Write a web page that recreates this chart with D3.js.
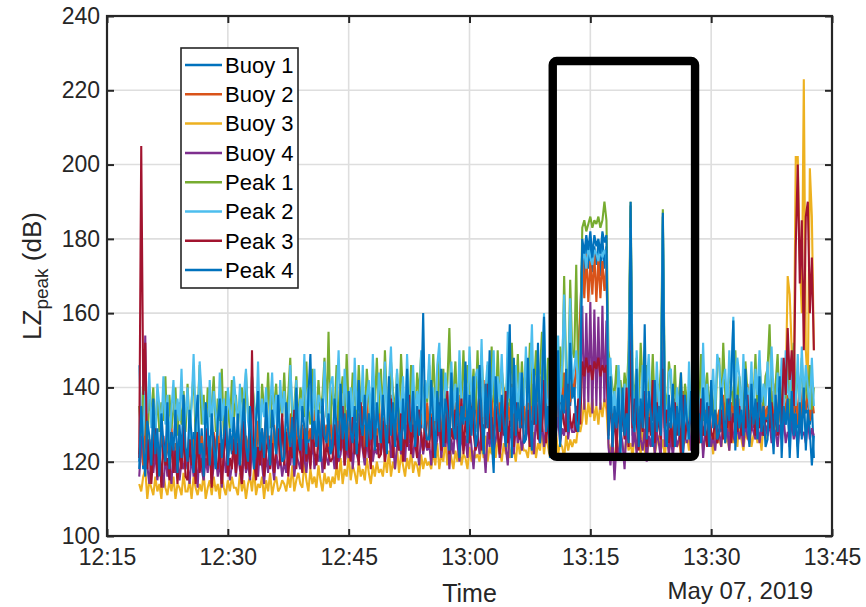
<!DOCTYPE html>
<html><head><meta charset="utf-8">
<script src="https://cdn.jsdelivr.net/npm/d3@7"></script>
<style>body{margin:0;background:#fff}svg{display:block}</style>
</head><body><svg id="c" width="866" height="607"></svg>
<script>
// ---------- DATA ----------
const seriesNames = ["Buoy 1","Buoy 2","Buoy 3","Buoy 4","Peak 1","Peak 2","Peak 3","Peak 4"];
const seriesColors = ["#0072BD","#D95319","#EDB120","#7E2F8E","#77AC30","#4DBEEE","#A2142F","#0072BD"];
const sampleStart = "2019-05-07T12:19:00";
const sampleStepSeconds = 15;
const xTickLabels = ["12:15","12:30","12:45","13:00","13:15","13:30","13:45"];
const yTickValues = [100,120,140,160,180,200,220,240];
const dateLabel = "May 07, 2019";
const boxTimes = ["13:10:20","13:28:00"];
const boxLevels = [121.3, 227.9];

const buoy1 = [
120,126,118,129,121,124,117,128,122,125,119,127,123,118,126,120,128,117,124,121,127,119,125,122,
118,125,121,128,117,126,120,129,119,124,122,127,118,126,121,130,119,125,123,128,120,126,122,129,
121,127,119,130,122,126,118,129,123,125,120,131,122,128,119,132,124,126,120,129,122,127,125,130,
122,128,120,131,124,127,121,133,123,129,119,130,125,128,122,133,124,130,121,134,126,129,123,131,
124,130,122,134,125,128,123,132,121,135,126,129,124,132,127,134,123,136,125,131,128,133,124,135,
123,131,125,129,127,136,124,130,126,133,122,132,128,135,125,137,127,132,124,136,129,133,126,135,
126,133,124,137,128,131,125,135,127,132,129,138,126,135,130,137,127,134,131,139,128,136,130,138,
128,136,126,139,130,133,127,137,129,134,125,136,131,139,128,135,130,140,127,137,132,138,129,135,
129,135,127,140,131,136,128,142,130,137,132,143,129,138,133,141,131,139,134,143,132,140,135,142,
138,145,150,158,178,170,179,172,180,171,178,173,179,170,180,172,178,132,138,128,136,130,139,127,
136,129,133,140,189,127,134,130,138,126,135,131,133,128,137,131,134,127,139,130,186,128,132,129,
131,127,135,129,133,126,137,130,134,128,136,131,132,129,135,127,138,130,133,128,136,131,134,129,
132,128,136,130,138,127,134,131,137,129,135,130,133,128,139,130,136,129,134,132,138,127,135,131,
133,129,137,131,139,128,135,132,138,130,136,121,134,131,137,129,140,131,135,133,138,130,136,121];
const buoy2 = [
122,127,119,130,121,126,118,129,123,125,120,128,124,119,127,121,130,118,125,122,128,120,126,123,
121,129,119,126,122,131,120,127,118,130,123,125,120,128,122,132,119,126,124,129,121,127,123,130,
120,128,122,132,119,127,123,130,121,126,124,131,122,129,120,133,125,127,121,130,123,128,126,131,
123,129,120,133,125,128,122,135,124,130,121,132,126,129,123,134,125,131,122,136,127,130,124,132,
125,131,123,136,126,129,124,134,122,137,127,130,125,133,128,135,124,138,126,132,129,134,125,137,
124,133,126,130,128,138,125,132,127,135,123,134,129,136,126,139,128,133,125,137,130,134,127,136,
127,134,125,139,129,132,126,137,128,133,130,141,127,136,131,138,128,135,132,140,129,137,131,139,
129,140,127,142,131,135,128,138,130,134,126,137,132,140,129,136,131,141,128,138,133,139,130,136,
130,136,128,141,132,137,129,143,131,138,133,145,130,139,134,142,132,140,135,144,133,141,136,143,
140,145,150,160,175,164,176,163,174,165,176,163,175,164,174,166,173,135,140,130,138,132,141,129,
138,130,134,145,181,129,136,131,140,128,137,132,135,130,139,133,136,129,141,132,175,129,134,131,
133,128,137,130,135,127,139,131,136,129,138,132,134,130,137,128,140,131,135,129,138,133,136,130,
134,129,138,131,140,128,136,133,139,130,137,132,135,129,141,131,138,130,136,133,140,128,137,132,
135,131,139,133,141,130,137,134,140,132,138,131,136,133,139,130,142,132,137,134,140,131,138,133];
const buoy3 = [
114,112,116,118,110,115,113,111,116,112,114,110,117,113,111,115,112,116,110,114,113,111,117,112,
112,115,110,116,113,111,114,112,117,110,113,115,111,116,112,114,110,117,113,111,115,112,116,113,
113,111,117,112,115,110,114,116,112,118,111,114,113,116,110,115,112,117,111,114,116,112,113,115,
114,112,116,113,119,112,115,117,114,113,120,115,112,118,114,116,113,119,115,112,117,114,116,113,
116,114,119,115,121,114,118,116,122,115,119,117,114,120,116,118,115,121,117,114,119,116,120,117,
118,116,121,117,123,116,120,118,124,117,122,119,116,121,118,123,117,120,119,116,122,118,121,119,
120,118,123,119,125,118,122,120,126,119,124,121,118,123,120,125,119,122,121,118,124,120,123,121,
122,120,125,121,127,120,124,122,128,121,126,123,120,125,122,127,121,124,123,120,126,122,125,123,
123,121,126,122,128,121,125,123,129,122,127,124,121,126,123,128,122,125,124,121,127,123,126,124,
126,125,130,128,131,137,130,136,132,137,131,135,130,136,132,137,134,125,122,126,120,124,123,127,
124,122,127,123,125,121,128,124,126,122,129,123,121,126,124,128,122,125,127,123,126,121,128,124,
125,123,128,124,126,122,129,125,127,123,130,124,122,127,125,129,123,126,128,124,127,122,129,125,
126,124,129,125,127,123,130,125,128,124,131,126,123,128,126,130,124,127,129,125,128,123,130,126,
127,130,128,125,131,129,133,130,135,140,170,165,150,140,202,202,175,160,223,150,140,199,186,150];
const buoy4 = [
116,125,130,154,119,114,121,117,123,115,120,118,113,122,116,119,114,124,117,121,115,120,118,123,
119,114,122,116,120,113,125,118,115,121,117,124,114,119,122,116,120,113,123,117,121,115,119,124,
116,122,118,114,123,117,120,115,125,118,121,116,124,119,114,122,117,126,120,115,123,118,121,116,
120,117,123,119,125,116,122,120,118,126,121,117,124,119,127,118,122,120,125,117,123,121,119,126,
123,118,126,120,122,127,119,124,121,128,118,125,122,120,127,123,119,126,121,129,120,124,122,125,
122,127,120,125,129,121,126,118,124,128,122,126,120,130,123,125,121,127,124,119,128,122,126,123,
125,119,128,123,126,130,121,127,124,129,118,126,122,131,125,120,128,123,127,121,130,124,118,126,
127,122,130,125,117,128,124,131,123,126,129,121,127,132,124,119,129,126,122,130,125,128,123,127,
126,130,124,128,122,132,127,125,131,124,129,133,126,130,123,128,132,125,129,127,134,126,131,128,
128,135,133,140,162,134,160,136,163,133,161,135,159,134,162,136,158,124,119,127,115,125,121,128,
125,118,130,126,165,124,128,122,131,126,123,129,120,127,124,130,122,128,125,121,150,124,127,122,
127,121,129,124,126,131,122,128,125,130,123,127,129,124,126,132,121,128,125,130,124,127,123,129,
128,124,131,126,129,123,132,127,125,130,126,129,124,131,127,125,130,128,126,132,125,129,127,130,
127,131,125,129,128,124,130,126,132,125,128,127,131,126,129,124,130,127,128,125,131,126,129,127];
const peak1 = [
135,127,142,130,124,137,133,140,126,139,128,136,131,143,125,138,129,134,140,127,136,130,139,128,
141,129,136,144,127,133,146,130,138,126,140,132,135,143,128,137,131,145,127,139,134,129,142,131,
138,130,135,140,128,144,133,129,143,136,131,139,127,141,134,132,144,129,138,135,141,130,137,132,
144,131,138,148,130,135,143,129,140,137,132,147,134,130,145,136,131,142,133,138,148,132,155,130,
140,133,146,131,137,143,130,149,135,132,144,138,131,146,134,140,132,145,137,131,143,135,148,133,
145,132,150,136,131,147,139,133,144,131,149,137,134,142,132,146,135,131,144,138,149,133,142,136,
146,134,149,137,132,148,136,145,133,141,156,135,138,147,133,144,136,150,134,146,139,137,145,134,
150,133,148,138,135,146,134,151,137,133,150,136,145,139,134,148,135,152,138,136,149,134,147,137,
147,137,152,135,139,150,136,144,155,138,137,148,134,150,139,142,136,151,140,170,145,141,169,150,
148,173,141,150,183,185,182,184,186,183,185,184,186,183,185,190,185,150,145,140,138,146,135,142,
135,144,138,150,190,142,137,148,133,152,140,131,146,138,135,149,134,141,137,145,188,139,134,147,
142,133,146,130,138,144,129,141,136,132,140,128,145,137,134,149,131,139,144,133,141,136,130,146,
148,134,152,138,131,146,140,135,150,133,143,137,134,147,139,133,144,136,149,132,147,138,135,143,
145,157,137,135,141,149,134,138,145,137,150,133,141,152,136,144,138,148,134,143,137,146,134,140];
const peak2 = [
146,131,127,139,133,144,129,136,126,141,135,128,143,130,138,125,134,142,127,137,131,145,128,133,
140,126,135,149,132,128,147,138,130,136,124,142,129,139,133,127,144,131,137,125,140,134,128,143,
136,129,141,126,138,145,131,127,143,134,130,147,128,137,132,140,126,135,144,130,138,127,142,133,
139,131,128,146,135,130,142,127,137,133,149,129,140,134,131,145,128,138,136,130,147,132,129,141,
143,130,137,150,133,129,145,136,131,140,128,148,134,139,132,146,130,137,142,131,149,135,129,144,
138,132,147,130,141,151,134,129,145,137,133,143,130,149,136,132,146,131,139,134,150,129,142,137,
149,133,140,131,146,152,135,130,144,138,132,147,134,141,130,150,136,133,145,131,151,137,134,143,
145,135,153,132,140,147,133,138,150,131,143,136,149,134,132,155,137,140,133,146,131,144,138,135,
151,136,142,157,134,139,147,133,144,160,137,135,149,132,143,138,154,136,146,165,142,140,164,141,
145,150,137,148,174,177,172,178,175,173,177,176,174,178,175,177,176,142,148,133,139,131,146,136,
128,141,135,145,183,139,130,150,136,133,146,129,141,149,133,138,131,147,135,140,184,136,130,144,
145,131,127,140,135,129,138,133,126,147,132,139,130,143,136,128,152,134,141,130,137,145,133,149,
146,136,142,145,133,150,139,159,137,148,143,131,149,135,140,134,147,132,145,138,150,136,141,135,
147,134,151,138,132,144,136,148,133,150,139,137,146,140,135,149,133,151,137,146,140,134,148,135];
const peak3 = [
121,205,138,152,118,126,114,122,129,116,124,113,127,119,121,115,128,117,123,114,125,118,130,116,
115,126,119,123,114,128,117,121,116,129,119,124,113,127,120,118,125,114,122,130,116,121,118,126,
117,125,120,114,131,118,123,116,150,121,115,124,119,128,116,122,127,118,125,117,123,129,119,133,
119,128,116,124,121,134,118,126,122,117,129,120,125,118,131,123,119,127,121,135,118,125,122,120,
121,130,118,126,123,135,119,128,124,120,132,122,127,119,136,124,121,129,125,118,133,123,127,121,
122,131,120,127,125,137,121,129,126,123,133,120,128,124,138,122,130,125,121,134,127,123,131,124,
124,132,121,128,127,136,123,130,125,139,122,129,126,134,128,124,137,122,131,127,125,135,128,123,
125,137,123,130,129,141,126,132,124,135,128,122,133,127,139,125,131,129,124,136,128,126,138,125,
127,134,124,131,130,139,126,133,128,142,125,131,129,137,127,132,140,126,135,130,128,141,131,129,
133,128,137,130,147,143,148,144,146,142,147,145,148,143,146,144,146,127,138,125,133,122,136,128,
133,126,140,124,150,129,137,131,123,135,128,139,124,132,127,142,125,136,130,126,145,129,134,125,
130,124,136,127,133,122,138,126,131,129,134,123,128,132,125,137,127,130,124,135,128,126,133,125,
128,134,126,131,129,137,125,133,130,128,135,127,132,129,138,126,131,134,127,136,129,133,127,131,
131,129,136,128,133,127,140,130,148,138,156,142,150,135,178,200,168,185,150,186,190,160,175,150];
const peak4 = [
118,135,124,116,131,127,119,137,122,129,116,133,125,120,136,118,128,123,134,117,130,121,138,124,
120,134,127,117,130,138,122,125,116,136,129,119,133,124,118,131,137,121,127,135,119,129,123,132,
122,133,119,128,137,124,120,135,126,118,131,139,123,129,121,136,125,119,134,128,122,138,126,120,
121,136,128,124,132,119,140,127,123,135,129,122,138,149,126,131,124,134,120,137,127,125,133,122,
124,137,129,121,141,126,133,123,139,128,125,135,122,142,130,127,138,124,133,126,140,123,136,129,
125,138,130,122,143,127,136,124,141,129,123,137,126,145,131,128,139,124,135,127,135,160,129,126,
126,142,131,121,139,128,145,124,137,133,123,144,129,126,140,121,135,130,147,125,138,127,143,124,
127,146,132,122,141,129,150,126,117,143,134,128,138,130,124,139,157,121,148,127,136,129,144,125,
126,148,133,123,145,130,152,125,140,159,128,135,121,147,131,127,150,124,138,133,145,128,152,137,
140,130,128,138,180,176,181,177,182,175,181,178,180,176,182,179,181,126,143,124,135,129,140,122,
140,127,133,125,190,131,128,145,124,137,129,157,126,139,133,124,142,128,135,127,187,130,124,138,
129,141,124,135,127,144,122,138,131,126,139,123,146,128,133,125,140,127,136,124,142,129,134,126,
128,140,133,125,137,131,143,158,123,138,129,134,127,145,132,124,141,130,137,126,143,128,135,124,
126,140,131,122,138,128,143,121,135,130,137,124,139,127,133,121,136,126,140,123,134,128,119,127];
const seriesValues = [buoy1,buoy2,buoy3,buoy4,peak1,peak2,peak3,peak4];

// ---------- LAYOUT ----------
const m = {left:107, top:16, right:832, bottom:536};
const font = "'Liberation Sans', Arial, Helvetica, sans-serif";
const axisColor = "#262626";
const svg = d3.select("#c");
const day = "2019-05-07T";
const parse = s => new Date(day + (s.length === 5 ? s + ":00" : s));

const x = d3.scaleTime().domain([parse(xTickLabels[0]), parse(xTickLabels[xTickLabels.length-1])]).range([m.left, m.right]);
const y = d3.scaleLinear().domain([yTickValues[0], yTickValues[yTickValues.length-1]]).range([m.bottom, m.top]);
const t0 = new Date(sampleStart);
const timeAt = i => new Date(t0.getTime() + i*sampleStepSeconds*1000);
const xTicks = xTickLabels.map(parse);

svg.append("defs").append("clipPath").attr("id","clip").append("rect")
  .attr("x",m.left).attr("y",m.top).attr("width",m.right-m.left).attr("height",m.bottom-m.top);

// grid
const grid = svg.append("g").attr("stroke","#dedede").attr("stroke-width",1.6);
xTicks.slice(1,-1).forEach(d => grid.append("line").attr("x1",x(d)).attr("x2",x(d)).attr("y1",m.top).attr("y2",m.bottom));
yTickValues.slice(1,-1).forEach(v => grid.append("line").attr("y1",y(v)).attr("y2",y(v)).attr("x1",m.left).attr("x2",m.right));

// lines
const line = d3.line().x((d,i)=>x(timeAt(i))).y(d=>y(d));
const lg = svg.append("g").attr("clip-path","url(#clip)");
seriesValues.forEach((vals,k)=>{
  lg.append("path").datum(vals).attr("d",line).attr("fill","none")
    .attr("stroke",seriesColors[k]).attr("stroke-width",2.1).attr("stroke-linejoin","miter").attr("stroke-miterlimit",1.5);
});

// annotation box
const bx0 = x(parse(boxTimes[0])), bx1 = x(parse(boxTimes[1]));
svg.append("rect").attr("x",bx0).attr("y",y(boxLevels[1])).attr("width",bx1-bx0)
  .attr("height",y(boxLevels[0])-y(boxLevels[1])).attr("rx",4)
  .attr("fill","none").attr("stroke","#000").attr("stroke-width",8.4);

// axes
const axB = d3.axisBottom(x).tickValues(xTicks).tickFormat(d3.timeFormat("%H:%M")).tickSizeInner(-7).tickSizeOuter(0).tickPadding(13);
const axL = d3.axisLeft(y).tickValues(yTickValues).tickSizeInner(-7).tickSizeOuter(0).tickPadding(7);
const axT = d3.axisTop(x).tickValues(xTicks).tickFormat("").tickSizeInner(-7).tickSizeOuter(0);
const axR = d3.axisRight(y).tickValues(yTickValues).tickFormat("").tickSizeInner(-7).tickSizeOuter(0);
function style(g){
  g.select(".domain").remove();
  g.selectAll("line").attr("stroke",axisColor).attr("stroke-width",2);
  g.selectAll("text").attr("fill",axisColor).style("font-family",font).style("font-size","23px");
}
svg.append("g").attr("transform",`translate(0,${m.bottom})`).call(axB).call(style);
svg.append("g").attr("transform",`translate(${m.left},0)`).call(axL).call(style);
svg.append("g").attr("transform",`translate(0,${m.top})`).call(axT).call(style);
svg.append("g").attr("transform",`translate(${m.right},0)`).call(axR).call(style);
svg.append("rect").attr("x",m.left).attr("y",m.top).attr("width",m.right-m.left).attr("height",m.bottom-m.top)
  .attr("fill","none").attr("stroke",axisColor).attr("stroke-width",2.2);

// axis titles
svg.append("text").attr("x",(m.left+m.right)/2).attr("y",602).attr("text-anchor","middle")
  .style("font-family",font).style("font-size","25px").attr("fill",axisColor).text("Time");
svg.append("text").attr("x",813).attr("y",599).attr("text-anchor","end")
  .style("font-family",font).style("font-size","24px").attr("fill",axisColor).text(dateLabel);
const yl = svg.append("text").attr("transform",`translate(41,${(m.top+m.bottom)/2}) rotate(-90)`).attr("text-anchor","middle")
  .style("font-family",font).style("font-size","26px").attr("fill",axisColor);
yl.append("tspan").text("LZ");
yl.append("tspan").attr("dy",7).style("font-size","19px").text("peak");
yl.append("tspan").attr("dy",-7).text(" (dB)");

// legend
const leg = svg.append("g");
leg.append("rect").attr("x",181).attr("y",48).attr("width",117).attr("height",240)
  .attr("fill","#fff").attr("stroke",axisColor).attr("stroke-width",1.6);
seriesNames.forEach((n,k)=>{
  const cy = 65 + k*29.3;
  leg.append("line").attr("x1",185).attr("x2",222).attr("y1",cy).attr("y2",cy).attr("stroke",seriesColors[k]).attr("stroke-width",2.5);
  leg.append("text").attr("x",225).attr("y",cy).attr("dy","0.35em").style("font-family",font).style("font-size","22px").attr("fill","#000").text(n);
});
</script></body></html>
